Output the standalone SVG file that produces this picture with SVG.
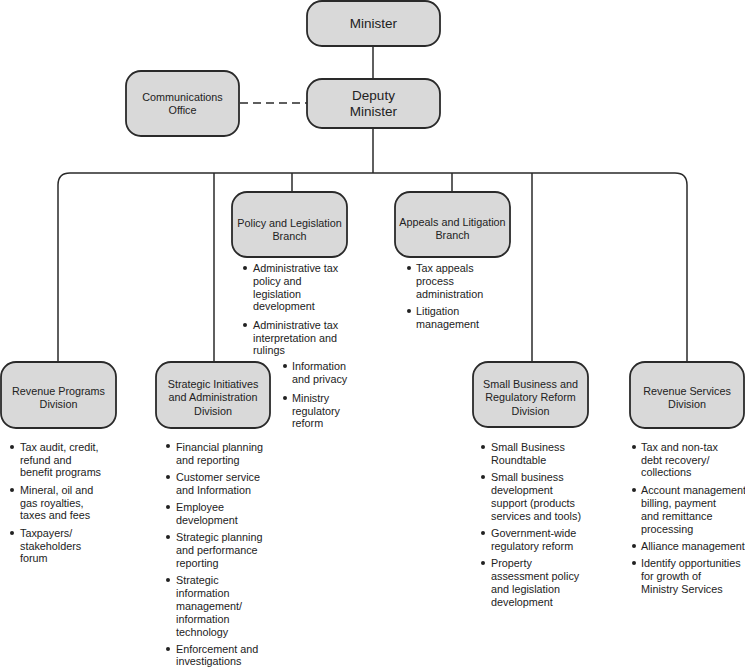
<svg xmlns="http://www.w3.org/2000/svg" width="745" height="668" viewBox="0 0 745 668">
<style>
.box{fill:#d9d9d9;stroke:#2a2a2a;stroke-width:1.8}
.ln{fill:none;stroke:#2a2a2a;stroke-width:1.5}
.dash{fill:none;stroke:#2a2a2a;stroke-width:1.5;stroke-dasharray:8 5}
text{font-family:"Liberation Sans",Arial,sans-serif;fill:#222}
.big{font-size:13.5px;text-anchor:middle}
.lbl{font-size:10.8px;text-anchor:middle}
.bl{font-size:10.8px}
.dot{fill:#222}
</style>
<rect width="745" height="668" fill="#fff"/>
<g id="connectors">
<line class="ln" x1="373" y1="46" x2="373" y2="79"/>
<line class="dash" x1="240" y1="103" x2="307" y2="103"/>
<line class="ln" x1="373" y1="128" x2="373" y2="173"/>
<path class="ln" d="M58,362 V185 Q58,173 70,173 H675 Q687,173 687,185 V362"/>
<line class="ln" x1="214" y1="173" x2="214" y2="362"/>
<line class="ln" x1="292" y1="173" x2="292" y2="192"/>
<line class="ln" x1="452" y1="173" x2="452" y2="192"/>
<line class="ln" x1="532" y1="173" x2="532" y2="362"/>
</g>
<g id="minister">
<rect class="box" x="307" y="1" width="133" height="45" rx="15"/>
<text class="big" x="373.5" y="28">Minister</text>
</g>
<g id="deputy">
<rect class="box" x="307" y="79" width="133" height="49" rx="15"/>
<text class="big" x="373.5" y="100">Deputy</text>
<text class="big" x="373.5" y="116">Minister</text>
</g>
<g id="comms">
<rect class="box" x="126" y="71" width="113" height="65" rx="15"/>
<text class="lbl" x="182.5" y="101">Communications</text>
<text class="lbl" x="182.5" y="114">Office</text>
</g>
<g id="policy">
<rect class="box" x="232" y="192" width="115" height="65" rx="15"/>
<text class="lbl" x="289.5" y="227">Policy and Legislation</text>
<text class="lbl" x="289.5" y="240">Branch</text>
<g class="bl">
<circle class="dot" cx="245" cy="268" r="2"/>
<text x="253" y="272">Administrative tax</text>
<text x="253" y="285">policy and</text>
<text x="253" y="298">legislation</text>
<text x="253" y="310">development</text>
<circle class="dot" cx="245" cy="325" r="2"/>
<text x="253" y="329">Administrative tax</text>
<text x="253" y="342">interpretation and</text>
<text x="253" y="354">rulings</text>
<circle class="dot" cx="285" cy="366" r="2"/>
<text x="292" y="370">Information</text>
<text x="292" y="383">and privacy</text>
<circle class="dot" cx="285" cy="398" r="2"/>
<text x="292" y="402">Ministry</text>
<text x="292" y="415">regulatory</text>
<text x="292" y="427">reform</text>
</g>
</g>
<g id="appeals">
<rect class="box" x="395" y="192" width="115" height="65" rx="15"/>
<text class="lbl" x="452.5" y="226">Appeals and Litigation</text>
<text class="lbl" x="452.5" y="239">Branch</text>
<g class="bl">
<circle class="dot" cx="409" cy="268" r="2"/>
<text x="416" y="272">Tax appeals</text>
<text x="416" y="285">process</text>
<text x="416" y="298">administration</text>
<circle class="dot" cx="409" cy="311" r="2"/>
<text x="416" y="315">Litigation</text>
<text x="416" y="328">management</text>
</g>
</g>
<g id="revprog">
<rect class="box" x="1" y="362" width="115" height="66" rx="15"/>
<text class="lbl" x="58.5" y="395">Revenue Programs</text>
<text class="lbl" x="58.5" y="408">Division</text>
<g class="bl">
<circle class="dot" cx="12" cy="447" r="2"/>
<text x="20" y="451">Tax audit, credit,</text>
<text x="20" y="464">refund and</text>
<text x="20" y="476">benefit programs</text>
<circle class="dot" cx="12" cy="490" r="2"/>
<text x="20" y="494">Mineral, oil and</text>
<text x="20" y="507">gas royalties,</text>
<text x="20" y="519">taxes and fees</text>
<circle class="dot" cx="12" cy="533" r="2"/>
<text x="20" y="537">Taxpayers/</text>
<text x="20" y="550">stakeholders</text>
<text x="20" y="562">forum</text>
</g>
</g>
<g id="strategic">
<rect class="box" x="156" y="362" width="114" height="66" rx="15"/>
<text class="lbl" x="213" y="388">Strategic Initiatives</text>
<text class="lbl" x="213" y="401">and Administration</text>
<text class="lbl" x="213" y="415">Division</text>
<g class="bl">
<circle class="dot" cx="168" cy="446" r="2"/>
<text x="176" y="451">Financial planning</text>
<text x="176" y="464">and reporting</text>
<circle class="dot" cx="168" cy="477" r="2"/>
<text x="176" y="481">Customer service</text>
<text x="176" y="494">and Information</text>
<circle class="dot" cx="168" cy="507" r="2"/>
<text x="176" y="511">Employee</text>
<text x="176" y="524">development</text>
<circle class="dot" cx="168" cy="537" r="2"/>
<text x="176" y="541">Strategic planning</text>
<text x="176" y="554">and performance</text>
<text x="176" y="567">reporting</text>
<circle class="dot" cx="168" cy="580" r="2"/>
<text x="176" y="584">Strategic</text>
<text x="176" y="597">information</text>
<text x="176" y="610">management/</text>
<text x="176" y="623">information</text>
<text x="176" y="636">technology</text>
<circle class="dot" cx="168" cy="649" r="2"/>
<text x="176" y="653">Enforcement and</text>
<text x="176" y="665">investigations</text>
</g>
</g>
<g id="smallbiz">
<rect class="box" x="473" y="362" width="115" height="65" rx="15"/>
<text class="lbl" x="530.5" y="388">Small Business and</text>
<text class="lbl" x="530.5" y="401">Regulatory Reform</text>
<text class="lbl" x="530.5" y="415">Division</text>
<g class="bl">
<circle class="dot" cx="483" cy="447" r="2"/>
<text x="491" y="451">Small Business</text>
<text x="491" y="464">Roundtable</text>
<circle class="dot" cx="483" cy="477" r="2"/>
<text x="491" y="481">Small business</text>
<text x="491" y="494">development</text>
<text x="491" y="507">support (products</text>
<text x="491" y="520">services and tools)</text>
<circle class="dot" cx="483" cy="533" r="2"/>
<text x="491" y="537">Government-wide</text>
<text x="491" y="550">regulatory reform</text>
<circle class="dot" cx="483" cy="563" r="2"/>
<text x="491" y="567">Property</text>
<text x="491" y="580">assessment policy</text>
<text x="491" y="593">and legislation</text>
<text x="491" y="606">development</text>
</g>
</g>
<g id="revserv">
<rect class="box" x="630" y="362" width="114" height="66" rx="15"/>
<text class="lbl" x="687" y="395">Revenue Services</text>
<text class="lbl" x="687" y="408">Division</text>
<g class="bl">
<circle class="dot" cx="634" cy="447" r="2"/>
<text x="641" y="451">Tax and non-tax</text>
<text x="641" y="464">debt recovery/</text>
<text x="641" y="476">collections</text>
<circle class="dot" cx="634" cy="490" r="2"/>
<text x="641" y="494">Account management</text>
<text x="641" y="507">billing, payment</text>
<text x="641" y="520">and remittance</text>
<text x="641" y="533">processing</text>
<circle class="dot" cx="634" cy="546" r="2"/>
<text x="641" y="550">Alliance management</text>
<circle class="dot" cx="634" cy="563" r="2"/>
<text x="641" y="567">Identify opportunities</text>
<text x="641" y="580">for growth of</text>
<text x="641" y="593">Ministry Services</text>
</g>
</g>
</svg>
